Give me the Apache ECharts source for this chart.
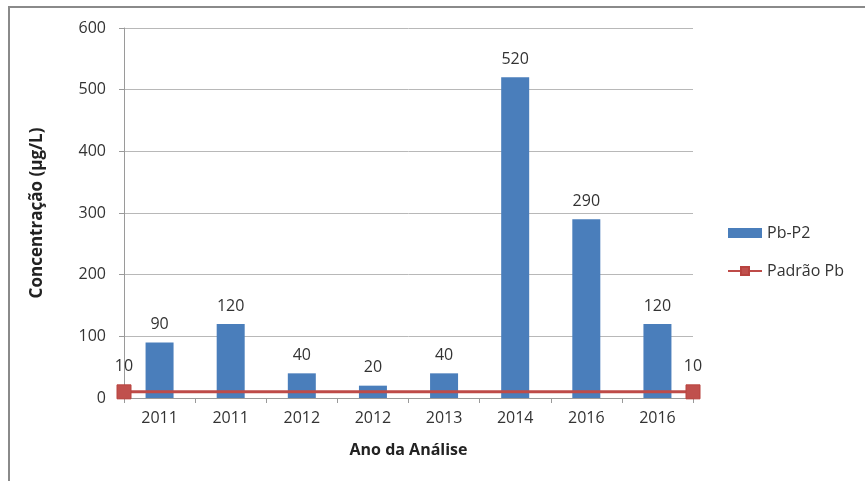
<!DOCTYPE html>
<html>
<head>
<meta charset="utf-8">
<script src="https://cdn.jsdelivr.net/npm/echarts@6/dist/echarts.min.js"></script>
<style>
  html, body { margin: 0; padding: 0; background: #fff; }
  #frame { position: absolute; left: 8px; top: 6px; width: 870px; height: 490px; border-left: 2px solid #8a8a8a; border-top: 2px solid #8a8a8a; }
  #chart { position: absolute; left: 0; top: 0; width: 865px; height: 481px; }
</style>
</head>
<body>
<div id="frame"></div>
<div id="chart"></div>
<script>
const categories = ['2011', '2011', '2012', '2012', '2013', '2014', '2016', '2016'];
const pbP2 = [90, 120, 40, 20, 40, 520, 290, 120];
const padraoEnds = ['', ''];
const padraoPb = [10, 10];

const font = '"Open Sans", sans-serif';
const chart = echarts.init(document.getElementById('chart'));
chart.setOption({
    animation: false,
    textStyle: { fontFamily: font },
    grid: { left: 124, right: 172, top: 28, bottom: 83 },
    legend: {
        orient: 'vertical',
        left: 722,
        top: 220,
        itemGap: 22,
        itemWidth: 34,
        itemHeight: 10,
        textStyle: { fontSize: 16, color: '#333', fontFamily: font },
        data: [
            { name: 'Pb-P2', icon: 'rect' },
            { name: 'Padrão Pb' }
        ]
    },
    xAxis: [
        {
            type: 'category',
            data: categories,
            name: 'Ano da Análise',
            nameLocation: 'middle',
            nameGap: 44,
            nameTextStyle: { fontWeight: 'bold', fontSize: 16, color: '#222' },
            axisLine: { lineStyle: { color: '#9a9a9a' } },
            axisTick: { show: true, alignWithLabel: false, length: 5, lineStyle: { color: '#9a9a9a' } },
            axisLabel: { fontSize: 16, color: '#333', margin: 12 }
        },
        {
            type: 'category',
            data: padraoEnds,
            boundaryGap: false,
            show: false
        }
    ],
    yAxis: {
        type: 'value',
        min: 0,
        max: 600,
        interval: 100,
        name: 'Concentração (µg/L)',
        nameLocation: 'middle',
        nameGap: 78,
        nameTextStyle: { fontWeight: 'bold', fontSize: 17, color: '#222' },
        axisLine: { show: true, lineStyle: { color: '#9a9a9a' } },
        axisTick: { show: true, length: 5, lineStyle: { color: '#9a9a9a' } },
        axisLabel: { fontSize: 16, color: '#333', margin: 18 },
        splitLine: { lineStyle: { color: '#b8b8b8' } }
    },
    series: [
        {
            name: 'Pb-P2',
            type: 'bar',
            data: pbP2,
            barWidth: 28,
            itemStyle: { color: '#4a7ebb' },
            label: { show: true, position: 'top', distance: 10, fontSize: 16, color: '#333' }
        },
        {
            name: 'Padrão Pb',
            type: 'line',
            xAxisIndex: 1,
            data: padraoPb,
            symbol: 'rect',
            symbolSize: 14,
            lineStyle: { color: '#be4b48', width: 3 },
            itemStyle: { color: '#c0504d', borderColor: '#b8433f', borderWidth: 1 },
            label: { show: true, position: 'top', distance: 10, fontSize: 16, color: '#333' }
        }
    ]
});
</script>
</body>
</html>
